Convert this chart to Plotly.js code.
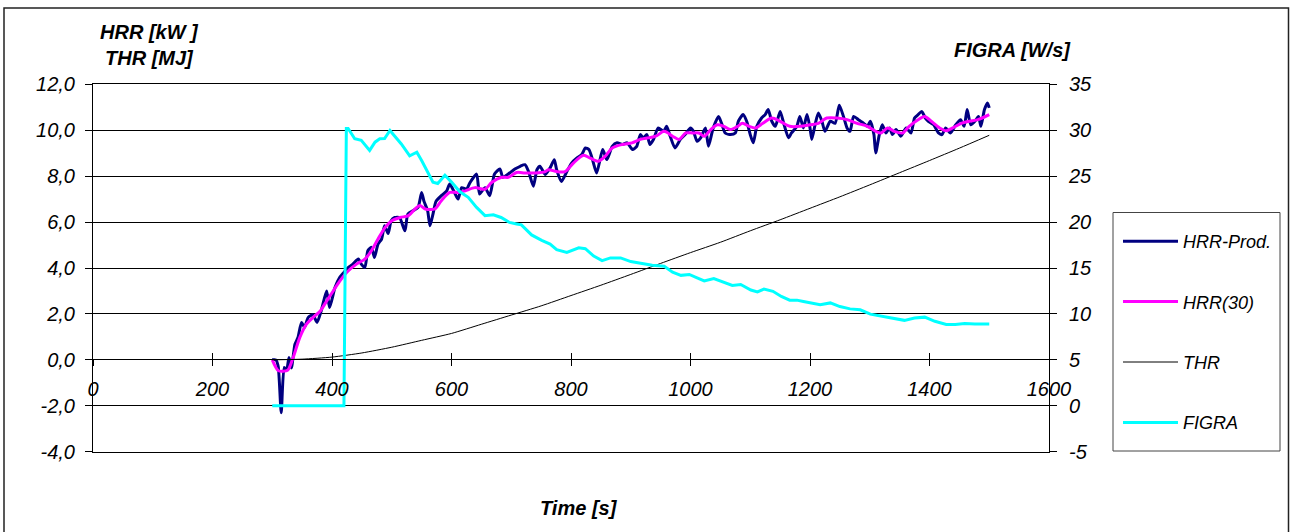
<!DOCTYPE html>
<html>
<head>
<meta charset="utf-8">
<script src="https://cdn.plot.ly/plotly-3.0.1.min.js"></script>
<style>html,body{margin:0;padding:0;background:#fff;}#chart{width:1290px;height:532px;}</style>
</head>
<body>
<div id="chart"></div>
<script>
// HRR-Prod [kW]
const hrrProdT = [300,306,310,315,320,324,328,332,338,343,349,354,360,368,375,382,391,396,405,413,420,427,435,444,449,455,460,466,471,477,483,488,494,499,505,513,522,527,536,544,550,554,560,564,569,574,583,592,597,605,611,617,625,631,642,647,656,664,672,681,686,695,706,715,723,729,737,743,748,757,765,772,776,784,793,801,810,818,824,830,836,843,853,860,869,877,886,894,903,910,916,921,927,932,938,946,955,960,966,974,983,991,1000,1005,1011,1017,1025,1030,1038,1047,1052,1058,1067,1075,1080,1088,1094,1100,1105,1111,1119,1125,1130,1136,1142,1150,1156,1164,1169,1178,1183,1189,1195,1200,1203,1209,1214,1220,1225,1234,1242,1249,1256,1262,1267,1273,1281,1290,1296,1301,1307,1310,1316,1321,1327,1333,1338,1344,1352,1361,1369,1375,1381,1387,1393,1398,1407,1415,1421,1427,1435,1444,1452,1458,1463,1469,1476,1482,1486,1492,1497,1500];
const hrrProdV = [0,0,-0.3,-2.3,-0.33,-0.45,0.1,-0.35,0.68,0.97,1.63,1.41,1.84,1.96,1.63,2.14,3.0,2.28,3.15,3.59,3.81,4.02,4.17,4.39,4.17,4.02,4.75,4.9,4.46,5.04,5.26,5.84,5.5,6.06,6.2,6.2,5.62,6.35,6.5,6.64,7.29,6.9,6.5,5.84,6.35,6.9,7.15,7.36,7.66,7.29,7.0,7.5,7.43,7.72,8.09,7.22,7.5,7.15,8.09,8.31,7.95,8.09,8.31,8.43,8.5,8.2,7.56,8.28,8.43,8.07,8.36,8.72,8.28,7.77,8.2,8.57,8.79,8.94,9.23,9.16,8.72,8.14,9.16,8.72,9.3,9.45,9.38,9.45,9.16,9.3,9.81,9.67,9.81,9.38,9.6,10.1,9.95,10.17,9.74,9.23,9.6,9.81,10.1,9.95,9.52,9.67,10.1,9.3,10.1,10.6,10.3,9.88,9.81,9.88,10.39,10.68,10.39,9.81,9.45,10.17,10.53,10.68,10.9,10.39,10.17,10.82,10.3,9.67,9.88,10.17,10.6,10.1,10.68,10.1,9.6,10.3,10.75,10.39,9.95,10.39,10.3,11.09,10.6,10.1,9.95,10.6,10.46,10.3,10.17,10.39,9.81,9.01,9.81,10.24,9.88,10.1,9.81,10.03,9.74,10.1,9.88,10.53,10.68,10.82,10.53,10.39,10.24,9.88,9.81,10.1,9.88,10.24,10.46,10.17,10.9,10.24,10.39,10.6,10.17,10.9,11.19,10.97];

// HRR(30) [kW]
const hrr30T = [300,310,318,326,335,346,357,368,380,391,402,413,427,441,455,466,477,489,500,514,528,539,547,556,572,583,597,611,623,639,656,667,684,695,709,723,740,757,762,776,790,804,821,832,846,857,869,886,902,916,930,942,956,970,981,992,1003,1014,1023,1034,1045,1056,1067,1079,1087,1098,1109,1121,1136,1150,1166,1183,1200,1214,1228,1245,1262,1279,1296,1310,1319,1330,1341,1355,1366,1381,1392,1403,1417,1428,1439,1453,1467,1481,1500];
const hrr30V = [0,-0.47,-0.5,-0.45,0.1,0.97,1.55,1.84,2.12,2.56,3.0,3.43,3.87,4.17,4.39,4.75,5.26,5.77,6.06,6.2,6.28,6.57,6.72,6.57,6.57,6.93,7.29,7.29,7.36,7.5,7.43,7.72,7.95,7.95,8.16,8.14,8.14,8.2,8.28,8.2,8.2,8.57,8.91,8.79,8.65,8.86,9.23,9.38,9.45,9.6,9.67,9.74,9.95,9.74,9.6,9.88,9.88,9.88,9.74,10.03,10.24,10.17,10.03,10.17,10.3,10.17,10.1,10.3,10.53,10.39,10.17,10.17,10.24,10.3,10.53,10.53,10.46,10.3,10.17,9.95,9.88,10.1,9.95,9.88,10.17,10.46,10.6,10.39,10.1,9.98,10.1,10.3,10.39,10.46,10.68];

// THR [MJ]
const thrT = [300,350,400,450,500,550,600,650,700,750,800,850,900,950,1000,1050,1100,1150,1200,1250,1300,1350,1400,1450,1500];
const thrV = [0,0.03,0.12,0.3,0.55,0.85,1.15,1.55,1.95,2.35,2.8,3.25,3.72,4.2,4.67,5.12,5.62,6.1,6.6,7.1,7.62,8.15,8.68,9.22,9.78];

// FIGRA [W/s]
const figraT = [300,420,424,427,438,449,463,472,480,488,497,505,516,530,542,550,561,569,577,589,600,614,628,642,656,670,683,697,709,717,734,751,765,776,793,813,824,838,852,866,883,900,919,936,956,970,984,998,1012,1023,1039,1053,1070,1084,1101,1112,1123,1138,1152,1166,1178,1189,1203,1217,1234,1250,1267,1284,1301,1318,1335,1358,1375,1392,1409,1428,1443,1459,1476,1500];
const figraV = [0,0,30.2,30.2,29.07,28.9,27.8,28.7,29.07,29.1,29.97,29.4,28.5,27.2,27.6,26.7,25.43,24.35,24.2,25.1,24.35,23.3,22.7,21.6,20.7,20.8,20.5,19.96,19.8,19.7,18.6,18.0,17.6,17.0,16.7,17.2,17.1,16.3,15.8,16.1,16.1,15.7,15.5,15.3,15.2,14.55,14.2,14.3,13.9,13.6,13.85,13.5,13.1,13.2,12.6,12.4,12.7,12.46,11.9,11.5,11.5,11.35,11.2,11.0,11.2,10.8,10.55,10.45,9.98,9.8,9.6,9.3,9.55,9.65,9.2,8.85,8.85,8.95,8.9,8.9];

// tick labels
const yTickVals = [-4,-2,0,2,4,6,8,10,12];
const yTickText = ["-4,0","-2,0","0,0","2,0","4,0","6,0","8,0","10,0","12,0"];
const y2TickVals = [-5,0,5,10,15,20,25,30,35];
const y2TickText = ["-5","0","5","10","15","20","25","30","35"];
const xTickVals = [0,200,400,600,800,1000,1200,1400,1600];
const xTickText = ["0","200","400","600","800","1000","1200","1400","1600"];

const W = 1290, H = 532;
const px = v => v / W;
const py = v => (H - v) / H;

const FAM = 'Liberation Sans, Arial, sans-serif';
const tickFont = {family: FAM, size: 20, style: 'italic', color: '#000'};

const xDom = [px(93), px(1049)];
const yDom = [py(451.7), py(84.3)];
const yZeroPos = py(359);

const traces = [
  {x: hrrProdT, y: hrrProdV, name: 'HRR-Prod.', type: 'scatter', mode: 'lines', xaxis: 'x', yaxis: 'y',
   line: {color: '#000080', width: 3, shape: 'spline', smoothing: 0.6}, legendgroup: 'a'},
  {x: hrr30T, y: hrr30V, name: 'HRR(30)', type: 'scatter', mode: 'lines', xaxis: 'x', yaxis: 'y',
   line: {color: '#FF00FF', width: 3, shape: 'spline', smoothing: 0.8}, legendgroup: 'b'},
  {x: thrT, y: thrV, name: 'THR', type: 'scatter', mode: 'lines', xaxis: 'x', yaxis: 'y',
   line: {color: '#000000', width: 1, shape: 'spline', smoothing: 0.6}, legendgroup: 'c'},
  {x: figraT, y: figraV, name: 'FIGRA', type: 'scatter', mode: 'lines', xaxis: 'x', yaxis: 'y2',
   line: {color: '#00FFFF', width: 3}, legendgroup: 'd'}
];

const layout = {
  width: W, height: H,
  margin: {l: 0, r: 0, t: 0, b: 0, pad: 0},
  paper_bgcolor: '#fff', plot_bgcolor: 'rgba(0,0,0,0)',
  showlegend: true,
  hovermode: false,
  xaxis: {
    domain: xDom, range: [0, 1600], anchor: 'free', position: yZeroPos,
    tickvals: xTickVals, ticktext: xTickText,
    ticks: 'outside', ticklen: 6, tickcolor: '#000', tickwidth: 1,
    showline: true, linecolor: '#000', linewidth: 1,
    showgrid: false, zeroline: false, tickfont: tickFont, ticklabelstandoff: 6
  },
  xaxis2: {
    domain: xDom, range: [0, 1600], overlaying: 'x', anchor: 'free', position: yZeroPos,
    tickvals: xTickVals, ticks: 'inside', ticklen: 6, tickcolor: '#000',
    showticklabels: false, showgrid: false, zeroline: false, showline: false
  },
  xaxis3: {
    domain: xDom, range: [0, 1600], overlaying: 'x', anchor: 'y', side: 'bottom',
    showline: true, mirror: true, linecolor: '#000', linewidth: 1,
    ticks: '', showticklabels: false, showgrid: false, zeroline: false
  },
  yaxis: {
    domain: yDom, range: [-4, 12], anchor: 'x3',
    tickvals: yTickVals, ticktext: yTickText,
    ticks: 'outside', ticklen: 7, tickcolor: '#000',
    showline: true, linecolor: '#000', linewidth: 1,
    showgrid: true, gridcolor: '#000', gridwidth: 1, zeroline: false,
    tickfont: tickFont, ticklabelstandoff: 6
  },
  yaxis3: {
    domain: yDom, range: [-4, 12], overlaying: 'y', anchor: 'x3', side: 'left',
    tickvals: yTickVals, ticks: 'inside', ticklen: 6, tickcolor: '#000',
    showticklabels: false, showgrid: false, zeroline: false, showline: false
  },
  yaxis2: {
    domain: yDom, range: [-5, 35], overlaying: 'y', side: 'right', anchor: 'x3',
    tickvals: y2TickVals, ticktext: y2TickText,
    ticks: 'outside', ticklen: 7, tickcolor: '#000',
    showline: true, linecolor: '#000', linewidth: 1,
    showgrid: false, zeroline: false, tickfont: tickFont, ticklabelstandoff: 8
  },
  yaxis4: {
    domain: yDom, range: [-5, 35], overlaying: 'y', side: 'right', anchor: 'x3',
    tickvals: y2TickVals, ticks: 'inside', ticklen: 6, tickcolor: '#000',
    showticklabels: false, showgrid: false, zeroline: false, showline: false
  },
  legend: {
    x: px(1118), y: py(223), xanchor: 'left', yanchor: 'top',
    borderwidth: 0, bgcolor: 'rgba(0,0,0,0)',
    font: {family: FAM, size: 18, style: 'italic', color: '#000'},
    traceorder: 'grouped', tracegroupgap: 34, itemwidth: 55
  },
  annotations: [
    {text: '<b><i>HRR [kW ]</i></b><br><b><i>THR [MJ]</i></b>', xref: 'paper', yref: 'paper',
     x: px(149), y: py(45), xanchor: 'center', yanchor: 'middle', showarrow: false,
     font: {family: FAM, size: 20, color: '#000'}},
    {text: '<b><i>FIGRA [W/s]</i></b>', xref: 'paper', yref: 'paper',
     x: px(1012), y: py(50), xanchor: 'center', yanchor: 'middle', showarrow: false,
     font: {family: FAM, size: 20, color: '#000'}},
    {text: '<b><i>Time [s]</i></b>', xref: 'paper', yref: 'paper',
     x: px(579), y: py(508), xanchor: 'center', yanchor: 'middle', showarrow: false,
     font: {family: FAM, size: 20, color: '#000'}}
  ],
  shapes: [
    {type: 'rect', xref: 'paper', yref: 'paper', x0: px(4), x1: px(1288.5), y0: -0.05, y1: py(8),
     line: {color: '#222', width: 1.5}, fillcolor: 'rgba(0,0,0,0)', layer: 'below'},
    {type: 'rect', xref: 'paper', yref: 'paper', x0: px(1113), x1: px(1280), y0: py(451), y1: py(212.5),
     line: {color: '#444', width: 1}, fillcolor: 'rgba(0,0,0,0)', layer: 'below'}
  ]
};

// extra empty traces to activate helper axes
traces.push({x: [], y: [], xaxis: 'x2', yaxis: 'y', showlegend: false, hoverinfo: 'skip'});
traces.push({x: [], y: [], xaxis: 'x3', yaxis: 'y3', showlegend: false, hoverinfo: 'skip'});
traces.push({x: [], y: [], xaxis: 'x3', yaxis: 'y4', showlegend: false, hoverinfo: 'skip'});

Plotly.newPlot('chart', traces, layout, {staticPlot: true, displayModeBar: false});
</script>
</body>
</html>
